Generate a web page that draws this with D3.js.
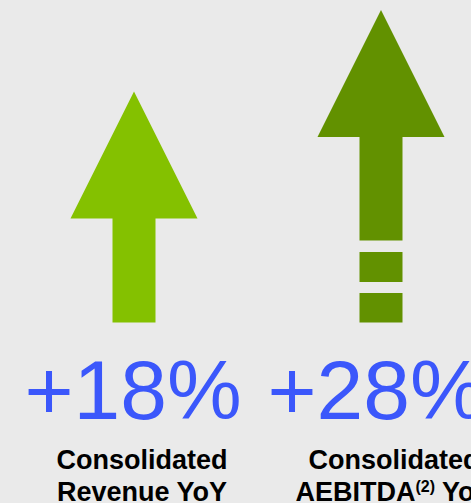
<!DOCTYPE html>
<html>
<head>
<meta charset="utf-8">
<script src="https://cdn.jsdelivr.net/npm/d3@7/dist/d3.min.js"></script>
<style>
  html, body { margin: 0; padding: 0; background: #eaeaea; }
  svg { display: block; }
</style>
</head>
<body>
<div id="chart"></div>
<script>
// Year-over-year growth figures
const categories = ["Revenue", "AEBITDA"];
const values = [18, 28];
const valueLabels = ["+18%", "+28%"];
const labelLine1 = ["Consolidated", "Consolidated"];
const labelLine2 = [["Revenue YoY"], ["AEBITDA", "(2)", " YoY"]];
const arrowColors = ["#84c100", "#629100"];
// second arrow uses a broken axis above this value
const breakValue = 18;

const W = 471, H = 503;
const svg = d3.select("#chart").append("svg")
  .attr("width", W).attr("height", H);

svg.append("rect").attr("width", W).attr("height", H).attr("fill", "#eaeaea");

const x = d3.scalePoint().domain(categories).range([134, 381]);
// polylinear scale: the segment above breakValue is compressed (axis break)
const y = d3.scaleLinear().domain([0, breakValue, 28]).range([322.5, 91.5, 10]);

const headW = 127, headH = 127, shaftW = 43;

categories.forEach((c, i) => {
  const cx = x(c);
  const top = y(values[i]);
  const base = y(0);
  const headBase = top + headH;
  const g = svg.append("g");
  const broken = values[i] > breakValue;
  const shaftEnd = broken ? base - 82 : base;
  const path = d3.path();
  path.moveTo(cx, top);
  path.lineTo(cx + headW / 2, headBase);
  path.lineTo(cx + shaftW / 2, headBase);
  path.lineTo(cx + shaftW / 2, shaftEnd);
  path.lineTo(cx - shaftW / 2, shaftEnd);
  path.lineTo(cx - shaftW / 2, headBase);
  path.lineTo(cx - headW / 2, headBase);
  path.closePath();
  g.append("path").attr("d", path.toString()).attr("fill", arrowColors[i]);
  if (broken) {
    // dashed stub indicating the break in the bar
    const dashes = [[base - 70.5, base - 40.5], [base - 29.5, base]];
    g.selectAll("rect.dash").data(dashes).join("rect")
      .attr("class", "dash")
      .attr("x", cx - shaftW / 2)
      .attr("width", shaftW)
      .attr("y", d => d[0])
      .attr("height", d => d[1] - d[0])
      .attr("fill", arrowColors[i]);
  }

  svg.append("text")
    .attr("x", cx + (i === 0 ? -1 : -5))
    .attr("y", 419)
    .attr("text-anchor", "middle")
    .attr("font-family", "'Liberation Sans', Arial, sans-serif")
    .attr("font-size", 84)
    .attr("fill", "#3b57fb")
    .text(valueLabels[i]);

  const lx = cx + (i === 0 ? 8 : 13);
  const label = svg.append("text")
    .attr("text-anchor", "middle")
    .attr("font-family", "'Liberation Sans', Arial, sans-serif")
    .attr("font-weight", "bold")
    .attr("font-size", 27)
    .attr("fill", "#000");
  label.append("tspan").attr("x", lx).attr("y", 469).text(labelLine1[i]);
  const l2 = label.append("tspan").attr("x", lx).attr("y", 501);
  const parts = labelLine2[i];
  if (parts.length === 1) {
    l2.text(parts[0]);
  } else {
    l2.append("tspan").text(parts[0]);
    l2.append("tspan").attr("font-size", 16).attr("dy", -9).text(parts[1]);
    l2.append("tspan").attr("dy", 9).text(parts[2]);
  }
});
</script>
</body>
</html>
